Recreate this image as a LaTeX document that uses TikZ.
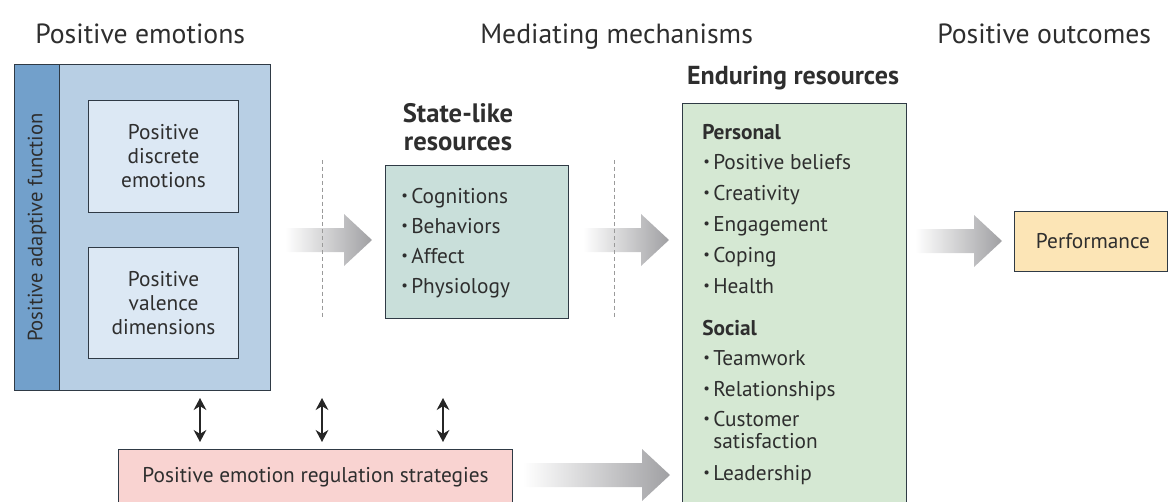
\documentclass[tikz,border=0pt]{standalone}
\usepackage{fontspec}
\setmainfont{PT Sans}
\usetikzlibrary{arrows.meta}

\definecolor{inkline}{HTML}{2F3A45}
\definecolor{inktext}{HTML}{2E2E2E}
\definecolor{outerblue}{HTML}{B8CFE4}
\definecolor{stripblue}{HTML}{72A0CB}
\definecolor{innerblue}{HTML}{DCE8F4}
\definecolor{stategreen}{HTML}{C9DFDA}
\definecolor{endgreen}{HTML}{D5E8D3}
\definecolor{perfyellow}{HTML}{FCE5B6}
\definecolor{regpink}{HTML}{F9D3D1}
\definecolor{flowgray}{HTML}{A0A0A3}
\definecolor{guidegray}{HTML}{9A9A9A}

% list bullet
\newcommand\bul{\makebox[7.5pt][l]{\raisebox{0.1em}{\fontsize{11}{11}\selectfont •}}}
% shaded block arrow: x start, x tip, y centre
\newcommand\flowarrow[3]{%
  \shade[left color=white, right color=flowgray]
    (#1,#3-12) -- (#2-28,#3-12) -- (#2-28,#3-26) -- (#2,#3)
    -- (#2-28,#3+26) -- (#2-28,#3+12) -- (#1,#3+12) -- cycle;}

\begin{document}
\begin{tikzpicture}[x=0.75pt, y=-0.75pt,
  box/.style={draw=inkline, line width=0.8pt, inner sep=0pt, anchor=north west},
  lbl/.style={text=inktext, font=\fontsize{16}{18}\selectfont, inner sep=0pt},
  item/.style={lbl, anchor=base west},
  head/.style={text=inktext, font=\fontsize{19.5}{19}\selectfont\bfseries, inner sep=0pt},
  subhead/.style={text=inktext, font=\fontsize{16}{18}\selectfont\bfseries, inner sep=0pt, anchor=base west},
  sect/.style={text=inktext, font=\fontsize{20.8}{24}\selectfont, inner sep=0pt, anchor=base west},
  guide/.style={draw=guidegray, line width=0.7pt, dash pattern=on 3pt off 2.2pt},
  updown/.style={{Stealth[length=9pt,width=9.5pt]}-{Stealth[length=9pt,width=9.5pt]}, line width=1.9pt, draw=black!85}]

\useasboundingbox (0,0) rectangle (1168,501);
\clip (0,0) rectangle (1168,501);

% section titles
\node[sect] (t1) at (35,43) {Positive emotions};
\node[sect] (t2) at (480,43) {Mediating mechanisms};
\node[sect] (t3) at (937,43) {Positive outcomes};

% positive emotions block
\node[box, fill=outerblue, minimum width=192pt, minimum height=244.5pt] (outer) at (14,64) {};
\node[box, fill=stripblue, minimum width=33.75pt, minimum height=244.5pt] (strip) at (14,64) {};
\node[lbl, rotate=90, font=\fontsize{15.5}{16}\selectfont] (adapt) at (strip.center) {Positive adaptive function};
\node[box, fill=innerblue, minimum width=112.5pt, minimum height=84pt, align=center, lbl] (disc) at (88,100) {Positive\\discrete\\emotions};
\node[box, fill=innerblue, minimum width=112.5pt, minimum height=83.25pt, align=center, lbl] (val) at (88,247) {Positive\\valence\\dimensions};

% state-like resources
\node[head, align=center, font=\fontsize{20}{20.5}\selectfont\bfseries] (sth) at (458,127) {State-like\\resources};
\node[box, fill=stategreen, minimum width=137.25pt, minimum height=114.75pt] (state) at (385,165) {};
\node[item] (s1) at (401,203) {\bul Cognitions};
\node[item] (s2) at (401,233) {\bul Behaviors};
\node[item] (s3) at (401,263) {\bul Affect};
\node[item] (s4) at (401,293) {\bul Physiology};

% enduring resources
\node[head] (enh) at (793,78) {Enduring resources};
\node[box, fill=endgreen, minimum width=168pt, minimum height=302pt] (endur) at (682,103) {};
\node[subhead] (e0) at (702,139) {Personal};
\node[item] (e1) at (703,169) {\bul Positive beliefs};
\node[item] (e2) at (703,200) {\bul Creativity};
\node[item] (e3) at (703,231) {\bul Engagement};
\node[item] (e4) at (703,262) {\bul Coping};
\node[item] (e5) at (703,293) {\bul Health};
\node[subhead] (e6) at (702,335) {Social};
\node[item] (e7) at (703,365) {\bul Teamwork};
\node[item] (e8) at (703,396) {\bul Relationships};
\node[item] (e9) at (703,426) {\bul Customer};
\node[item] (e10) at (703,448) {\hphantom{\bul}satisfaction};
\node[item] (e11) at (703,480) {\bul Leadership};

% outcome
\node[box, fill=perfyellow, minimum width=114.75pt, minimum height=45pt] (perf) at (1014,211) {};
\node[lbl] (perftext) at (1093,241) {Performance};

% regulation strategies
\node[box, fill=regpink, minimum width=295.5pt, minimum height=42pt, lbl] (reg) at (118,449) {Positive emotion regulation strategies};

% flow arrows
\flowarrow{285}{372}{240}
\flowarrow{583}{669}{240}
\flowarrow{915}{1002}{241}
\flowarrow{523}{670}{475}

% dashed guides
\coordinate (g1a) at (322,160); \coordinate (g1b) at (322,317);
\coordinate (g2a) at (614,160); \coordinate (g2b) at (614,317);
\draw[guide] (g1a) -- (g1b);
\draw[guide] (g2a) -- (g2b);

% two-way links with regulation strategies
\foreach \i/\x in {1/200, 2/322, 3/443} {
  \coordinate (u\i) at (\x,398);
  \coordinate (d\i) at (\x,442);
  \draw[updown] (u\i) -- (d\i);
}
\end{tikzpicture}
\end{document}
